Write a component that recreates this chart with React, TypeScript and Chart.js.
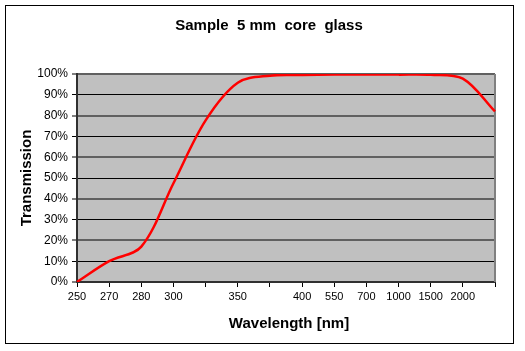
import React, { useEffect, useRef } from "react";
import { Chart, registerables } from "chart.js";

Chart.register(...registerables);

const chartTitle = "Sample  5 mm  core  glass";
const xAxisTitle = "Wavelength [nm]";
const yAxisTitle = "Transmission";
const wavelengthLabels = ["250", "270", "280", "300", "", "350", "", "400", "550", "700", "1000", "1500", "2000", ""];
const transmission = [0, 10, 17, 47.5, 77.7, 95.8, 99.2, 99.5, 99.7, 99.7, 99.7, 99.6, 97.8, 82];
const yTicks = [0, 10, 20, 30, 40, 50, 60, 70, 80, 90, 100];

const FONT = "'Liberation Sans', Arial, sans-serif";

const decorPlugin = {
  id: "decor",
  beforeDraw(chart: any) {
    const { ctx, chartArea: a } = chart;
    ctx.save();
    ctx.fillStyle = "#ffffff";
    ctx.fillRect(0, 0, chart.width, chart.height);
    ctx.fillStyle = "#c0c0c0";
    ctx.fillRect(a.left, a.top, a.right - a.left, a.bottom - a.top);
    ctx.restore();
  },
  beforeDatasetsDraw(chart: any) {
    const { ctx, chartArea: a } = chart;
    ctx.save();
    ctx.strokeStyle = "#808080";
    ctx.lineWidth = 2;
    ctx.beginPath();
    ctx.moveTo(a.right, a.top);
    ctx.lineTo(a.right, a.bottom);
    ctx.stroke();
    ctx.restore();
  },
  afterDraw(chart: any) {
    const { ctx } = chart;
    ctx.save();
    ctx.strokeStyle = "#000";
    ctx.lineWidth = 1;
    ctx.strokeRect(5.5, 5.5, 508, 338);
    ctx.fillStyle = "#000";
    ctx.textAlign = "center";
    ctx.textBaseline = "alphabetic";
    ctx.font = `bold 15px ${FONT}`;
    ctx.fillText(chartTitle, 269, 30);
    ctx.fillText(xAxisTitle, 289, 328);
    ctx.translate(31, 178);
    ctx.rotate(-Math.PI / 2);
    ctx.fillText(yAxisTitle, 0, 0);
    ctx.restore();
  },
};

export default function App() {
  const ref = useRef<HTMLCanvasElement>(null);
  useEffect(() => {
    if (!ref.current) return;
    const chart = new Chart(ref.current, {
      type: "line",
      data: {
        labels: wavelengthLabels,
        datasets: [
          {
            data: transmission,
            borderColor: "#ff0000",
            borderWidth: 2.5,
            pointRadius: 0,
            tension: 0.34,
            fill: false,
          },
        ],
      },
      options: {
        responsive: false,
        devicePixelRatio: 1,
        animation: false,
        layout: { padding: { left: 0, right: 30, top: 74, bottom: 0 } },
        plugins: { legend: { display: false }, title: { display: false }, tooltip: { enabled: false } },
        scales: {
          x: {
            type: "category",
            offset: false,
            afterFit: (s: any) => {
              s.height = 69;
            },
            grid: { drawOnChartArea: false, drawTicks: true, tickLength: 5, tickColor: "#000", tickWidth: 1 },
            border: { color: "#303030", width: 2 },
            ticks: {
              autoSkip: false,
              maxRotation: 0,
              minRotation: 0,
              padding: 3,
              color: "#000",
              font: { family: FONT, size: 11 },
            },
          },
          y: {
            min: 0,
            max: 100,
            afterFit: (s: any) => {
              s.width = 77;
            },
            afterBuildTicks: (s: any) => {
              s.ticks = yTicks.map((v) => ({ value: v }));
            },
            grid: {
              drawTicks: true,
              tickLength: 5,
              tickColor: "#000",
              tickWidth: 1,
              color: (c: any) => (c.tick && c.tick.value % 20 === 0 ? "#606060" : "#000"),
              lineWidth: (c: any) => (c.tick && c.tick.value % 20 === 0 ? 2 : 1),
            },
            border: { color: "#303030", width: 2 },
            ticks: {
              padding: 4,
              color: "#000",
              font: { family: FONT, size: 12 },
              callback: (v: any) => `${v}%`,
            },
          },
        },
      },
      plugins: [decorPlugin],
    });
    return () => chart.destroy();
  }, []);
  return (
    <div style={{ position: "absolute", left: 0, top: 0, width: 525, height: 351 }}>
      <canvas ref={ref} width={525} height={351} style={{ width: 525, height: 351, display: "block" }} />
    </div>
  );
}
